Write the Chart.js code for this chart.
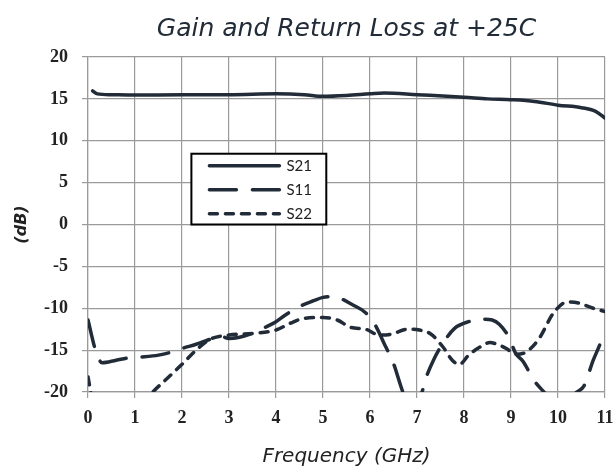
<!DOCTYPE html>
<html>
<head>
<meta charset="utf-8">
<script src="https://cdn.jsdelivr.net/npm/chart.js@4.4.0/dist/chart.umd.min.js"></script>
<style>
  html, body { margin: 0; padding: 0; background: #fff; }
</style>
</head>
<body>
<canvas id="gainChart" width="614" height="466"></canvas>
<script>
// values (GHz / dB)
const s21Freq = [0.1, 0.2, 0.5, 1, 2, 3, 4, 4.6, 5, 5.5, 6, 6.3, 7, 8, 8.5, 9, 9.5, 10, 10.5, 10.8, 11];
const s21 = [15.95, 15.6, 15.5, 15.45, 15.5, 15.5, 15.6, 15.5, 15.3, 15.4, 15.6, 15.7, 15.5, 15.2, 15.0, 14.9, 14.7, 14.25, 13.95, 13.5, 12.7];

const s11Freq = [0, 0.16, 0.3, 0.6, 0.9, 1.2, 1.5, 1.8, 2.0, 2.3, 2.6, 2.8, 3.0, 3.2, 3.5, 3.8, 4.0, 4.2, 4.5, 4.8, 5.0, 5.2, 5.4, 5.6, 5.9, 6.1, 6.3, 6.5, 6.7, 6.9, 7.1, 7.2, 7.35, 7.55, 7.8, 8.1, 8.4, 8.6, 8.75, 8.95, 9.1, 9.25, 9.5, 9.7, 10.0, 10.4, 10.55, 10.75, 10.9, 11.0];
const s11 = [-11.4, -15.0, -16.5, -16.2, -15.9, -15.8, -15.6, -15.2, -14.8, -14.3, -13.7, -13.3, -13.6, -13.5, -13.0, -12.2, -11.6, -10.8, -9.8, -9.1, -8.7, -8.6, -8.9, -9.5, -10.5, -11.9, -14.2, -16.6, -20.0, -22.0, -20.1, -18.2, -16.2, -14.2, -12.4, -11.6, -11.3, -11.4, -11.9, -13.4, -15.4, -16.3, -18.7, -20.0, -22.0, -20.0, -19.3, -16.2, -14.2, -12.6];

const s22Freq = [0, 0.08, 0.3, 0.7, 1.0, 1.38, 1.7, 2.0, 2.3, 2.6, 3.0, 3.5, 4.0, 4.3, 4.6, 5.0, 5.3, 5.6, 5.9, 6.2, 6.45, 6.8, 7.05, 7.3, 7.55, 7.75, 7.9, 8.1, 8.35, 8.55, 8.7, 8.9, 9.1, 9.3, 9.6, 9.9, 10.2, 10.45, 10.75, 11.0];
const s22 = [-18.2, -20.5, -23, -24, -22.5, -20, -18.3, -16.7, -15.0, -13.7, -13.2, -13.0, -12.6, -11.8, -11.2, -11.1, -11.4, -12.3, -12.5, -13.2, -13.1, -12.5, -12.6, -13.1, -14.6, -16.2, -16.7, -15.6, -14.6, -14.1, -14.3, -14.8, -15.5, -15.3, -13.6, -10.6, -9.25, -9.4, -10.0, -10.4];

const seriesNames = ['S21', 'S11', 'S22'];

const lineColor = '#222b38';
const gridColor = '#9a9a9a';

const toPoints = (xs, ys) => xs.map((x, i) => ({ x: x, y: ys[i] }));

// legend drawn as a framed box inside the plot, like the original
const legendBox = {
  id: 'legendBox',
  afterDraw(chart) {
    const ctx = chart.ctx;
    const xs = chart.scales.x;
    const ys = chart.scales.y;
    const left = xs.getPixelForValue(2.2);
    const right = xs.getPixelForValue(5.07);
    const top = ys.getPixelForValue(8.45);
    const bottom = ys.getPixelForValue(0);

    ctx.save();
    ctx.fillStyle = '#fff';
    ctx.fillRect(left, top, right - left, bottom - top);
    ctx.strokeStyle = '#000';
    ctx.lineWidth = 2;
    ctx.strokeRect(left, top, right - left, bottom - top);

    ctx.font = '15px Lato';
    ctx.textBaseline = 'middle';
    chart.data.datasets.forEach((ds, i) => {
      const y = top + 12 + i * 24;
      ctx.beginPath();
      ctx.strokeStyle = ds.borderColor;
      ctx.lineWidth = ds.borderWidth;
      ctx.lineCap = 'round';
      ctx.setLineDash(ds.borderDash || []);
      ctx.moveTo(left + 18, y);
      ctx.lineTo(left + 88, y);
      ctx.stroke();
      ctx.setLineDash([]);
      ctx.fillStyle = '#222';
      ctx.fillText(ds.label, left + 95, y);
    });
    ctx.restore();
  }
};

const ctx = document.getElementById('gainChart').getContext('2d');
new Chart(ctx, {
  type: 'line',
  data: {
    datasets: [
      {
        label: seriesNames[0],
        data: toPoints(s21Freq, s21),
        borderColor: lineColor,
        borderWidth: 3.5,
        borderCapStyle: 'round',
      },
      {
        label: seriesNames[1],
        data: toPoints(s11Freq, s11),
        borderColor: lineColor,
        borderWidth: 3.5,
        borderDash: [27, 16],
        borderCapStyle: 'round',
      },
      {
        label: seriesNames[2],
        data: toPoints(s22Freq, s22),
        borderColor: lineColor,
        borderWidth: 3.5,
        borderDash: [8, 8],
        borderCapStyle: 'round',
      },
    ],
  },
  options: {
    responsive: false,
    animation: false,
    layout: { padding: { left: 0, right: 0, top: 0, bottom: 0 } },
    elements: {
      point: { radius: 0 },
      line: { cubicInterpolationMode: 'monotone' },
    },
    plugins: {
      legend: { display: false },
      tooltip: { enabled: false },
      title: {
        display: true,
        fullSize: false,
        text: 'Gain and Return Loss at +25C',
        color: '#222b38',
        font: { family: 'DejaVu Sans', size: 25, style: 'italic', weight: 'normal' },
        padding: { top: 14, bottom: 13 },
      },
    },
    scales: {
      x: {
        type: 'linear',
        min: 0,
        max: 11,
        ticks: {
          stepSize: 1,
          color: '#222',
          padding: 10,
          font: { family: 'Liberation Serif', size: 18, weight: 'bold' },
        },
        grid: { color: gridColor, lineWidth: 1.2, tickLength: 6 },
        border: { color: gridColor, width: 1.2 },
        title: {
          display: true,
          text: 'Frequency (GHz)',
          color: '#222',
          font: { family: 'DejaVu Sans', size: 20, style: 'italic' },
          padding: { top: 0, bottom: -3 },
        },
        afterFit(scale) {
          scale.height = 74;
          scale.paddingRight = 9;
        },
      },
      y: {
        min: -20,
        max: 20,
        ticks: {
          stepSize: 5,
          color: '#222',
          padding: 14,
          font: { family: 'Liberation Serif', size: 18, weight: 'bold' },
        },
        grid: { color: gridColor, lineWidth: 1.2, tickLength: 6 },
        border: { color: gridColor, width: 1.2 },
        title: {
          display: true,
          text: '(dB)',
          color: '#222',
          font: { family: 'DejaVu Sans', size: 16, style: 'italic', weight: 'bold' },
          padding: { top: 12, bottom: 0 },
        },
        afterFit(scale) { scale.width = 88; },
      },
    },
  },
  plugins: [legendBox],
});
</script>
</body>
</html>
